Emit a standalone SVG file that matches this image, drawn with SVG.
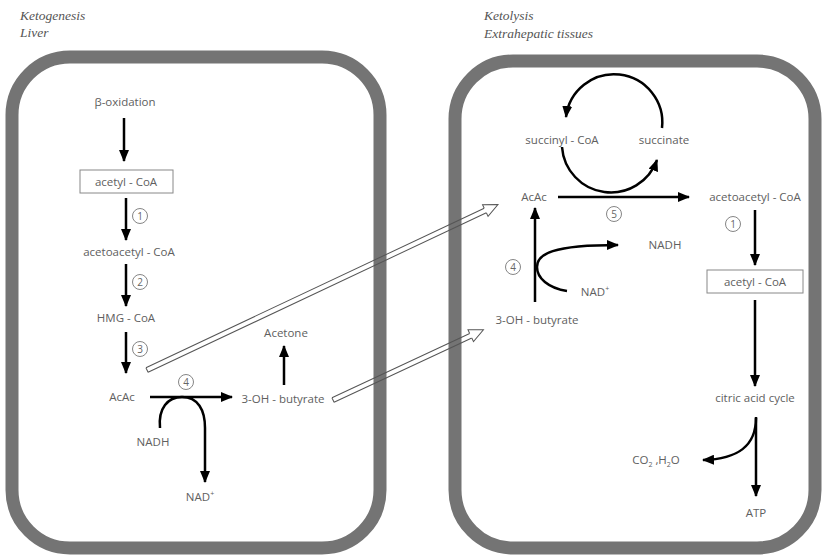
<svg xmlns="http://www.w3.org/2000/svg" width="822" height="559" viewBox="0 0 822 559">
<defs>
<style>
.wall{fill:none;stroke:#747474;stroke-width:13}
.t{font-family:"Open Sans","Liberation Sans",sans-serif;font-size:11.5px;fill:#606060;text-anchor:middle}
.ttl{font-family:"Liberation Serif",serif;font-style:italic;font-size:13.5px;fill:#555}
.ar{fill:none;stroke:#000;stroke-width:2.5;marker-end:url(#ah)}
.num circle{fill:#fff;stroke:#777;stroke-width:0.9}
.num text{font-family:"Open Sans","Liberation Sans",sans-serif;font-size:10px;fill:#666;text-anchor:middle}
.box{fill:#fff;stroke:#888;stroke-width:1}
.hl{stroke:#555;stroke-width:1;fill:none}
.hh{stroke:#555;stroke-width:1;fill:#fff}
</style>
<marker id="ah" viewBox="0 0 12 10" refX="11" refY="5" markerWidth="12" markerHeight="10" orient="auto" markerUnits="userSpaceOnUse"><path d="M0,0 L12,5 L0,10 z" fill="#000"/></marker>
</defs>
<rect width="822" height="559" fill="#fff"/>

<text class="ttl" x="20" y="20">Ketogenesis</text>
<text class="ttl" x="20" y="37">Liver</text>
<text class="ttl" x="484" y="20">Ketolysis</text>
<text class="ttl" x="484" y="38">Extrahepatic tissues</text>

<g id="liver-cell"><rect class="wall" x="12" y="57" width="368" height="491" rx="58"/></g>
<g id="extrahepatic-cell"><rect class="wall" x="455" y="61" width="360" height="487" rx="58"/></g>

<g id="connectors">
<path class="ar" d="M124,118 V161"/>
<path class="ar" d="M126,198 V240"/>
<path class="ar" d="M126,264 V306"/>
<path class="ar" d="M126,332 V373"/>
<path class="ar" d="M150,397 H232"/>
<path class="ar" d="M160,428 C158,408 168,397 182,397 C198,397 205,410 205,428 V482"/>
<path class="ar" d="M284,385 V346"/>
<path class="ar" d="M558,197 H689"/>
<path class="ar" d="M662,128 A48,48 0 0 0 566,117"/>
<path class="ar" d="M562,147 A49,49 0 0 0 657,160"/>
<path class="ar" d="M535,302 V208"/>
<path class="ar" d="M567,291 C548,288 537,278 537,267 C537,254 552,245 618,245"/>
<path class="ar" d="M755,210 V265"/>
<path class="ar" d="M755,300 V386"/>
<path class="ar" d="M756,417 V496"/>
<path class="ar" d="M756,418 C756,446 738,459 703,460"/>
<g transform="translate(147,370) rotate(-25.24)">
<path class="hl" d="M0,-2.5 H374 M0,2.5 H374 M0,-2.5 V2.5"/>
<path class="hh" d="M374,-2.5 V-6.5 L388,0 L374,6.5 V2.5"/>
</g>
<g transform="translate(333,400) rotate(-25.02)">
<path class="hl" d="M0,-2.5 H152 M0,2.5 H152 M0,-2.5 V2.5"/>
<path class="hh" d="M152,-2.5 V-6.5 L166,0 L152,6.5 V2.5"/>
</g>
</g>

<g id="beta-oxidation"><text class="t" x="125" y="106">β-oxidation</text></g>
<g id="acetylcoa-l"><rect class="box" x="80" y="170" width="93" height="23"/><text class="t" x="126" y="185.5">acetyl - CoA</text></g>
<g id="step1-l" class="num"><circle cx="140" cy="216" r="7.5"/><text x="140" y="219.5">1</text></g>
<g id="acetoacetylcoa-l"><text class="t" x="129" y="256">acetoacetyl - CoA</text></g>
<g id="step2-l" class="num"><circle cx="140" cy="282" r="7.5"/><text x="140" y="285.5">2</text></g>
<g id="hmgcoa"><text class="t" x="126" y="322">HMG - CoA</text></g>
<g id="step3-l" class="num"><circle cx="140" cy="349" r="7.5"/><text x="140" y="352.5">3</text></g>
<g id="acac-l"><text class="t" x="122" y="401">AcAc</text></g>
<g id="step4-l" class="num"><circle cx="186" cy="382" r="7.5"/><text x="186" y="385.5">4</text></g>
<g id="nadh-l"><text class="t" x="153" y="446">NADH</text></g>
<g id="nadp-l"><text class="t" x="200" y="501">NAD<tspan font-size="7" dy="-5">+</tspan></text></g>
<g id="ohbutyrate-l"><text class="t" x="283" y="403">3-OH - butyrate</text></g>
<g id="acetone"><text class="t" x="286" y="337">Acetone</text></g>

<g id="succinylcoa"><text class="t" x="562" y="144">succinyl - CoA</text></g>
<g id="succinate"><text class="t" x="664" y="144">succinate</text></g>
<g id="acac-r"><text class="t" x="534" y="201">AcAc</text></g>
<g id="step5" class="num"><circle cx="614" cy="214" r="7.5"/><text x="614" y="217.5">5</text></g>
<g id="acetoacetylcoa-r"><text class="t" x="755" y="201">acetoacetyl - CoA</text></g>
<g id="step1-r" class="num"><circle cx="733" cy="224" r="7.5"/><text x="733" y="227.5">1</text></g>
<g id="acetylcoa-r"><rect class="box" x="707" y="270" width="96" height="23"/><text class="t" x="755" y="285.5">acetyl - CoA</text></g>
<g id="nadh-r"><text class="t" x="665" y="249">NADH</text></g>
<g id="nadp-r"><text class="t" x="595" y="296">NAD<tspan font-size="7" dy="-5">+</tspan></text></g>
<g id="step4-r" class="num"><circle cx="513" cy="267" r="7.5"/><text x="513" y="270.5">4</text></g>
<g id="ohbutyrate-r"><text class="t" x="537" y="324">3-OH - butyrate</text></g>
<g id="citric"><text class="t" x="755" y="402">citric acid cycle</text></g>
<g id="co2h2o"><text class="t" x="656" y="464">CO<tspan font-size="7" dy="3">2</tspan><tspan dy="-3"> ,H</tspan><tspan font-size="7" dy="3">2</tspan><tspan dy="-3">O</tspan></text></g>
<g id="atp"><text class="t" x="756" y="517">ATP</text></g>
</svg>
